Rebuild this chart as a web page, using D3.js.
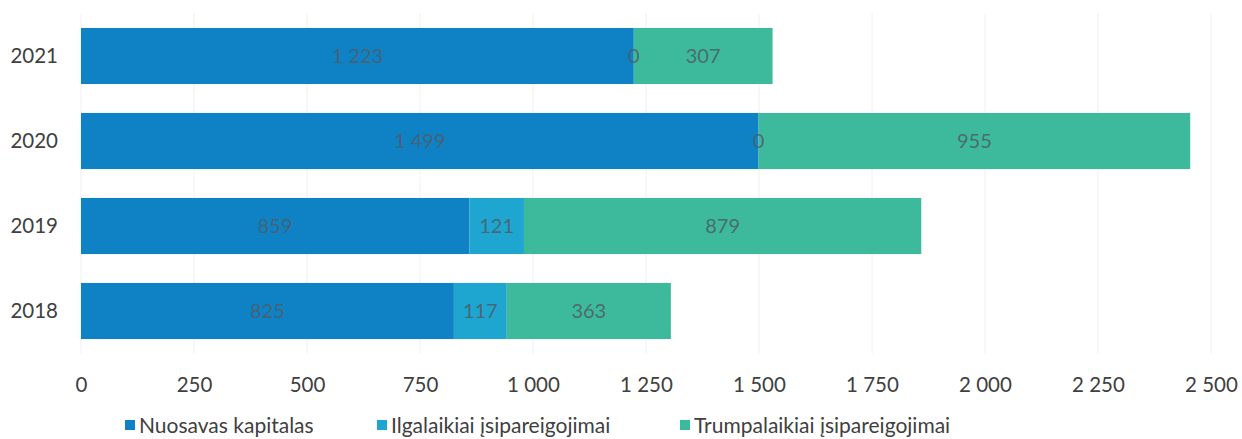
<!DOCTYPE html>
<html>
<head>
<meta charset="utf-8">
<script src="https://cdn.jsdelivr.net/npm/d3@7"></script>
<style>
  body { margin: 0; background: #fff; }
  svg { font-family: Lato, "Open Sans", sans-serif; }
</style>
</head>
<body>
<div id="chart"></div>
<script>
// data
var years = ["2021", "2020", "2019", "2018"];
var series = ["Nuosavas kapitalas", "Ilgalaikiai įsipareigojimai", "Trumpalaikiai įsipareigojimai"];
var nuosavas = [1223, 1499, 859, 825];
var ilgalaikiai = [0, 0, 121, 117];
var trumpalaikiai = [307, 955, 879, 363];
var ticks = [0, 250, 500, 750, 1000, 1250, 1500, 1750, 2000, 2250, 2500];
var colors = ["#0f82c6", "#1ea6d1", "#3db99b"];

var width = 1242, height = 439;
var margin = {left: 81, right: 31, top: 13.5, bottom: 85.5};

var rows = years.map(function (y, i) {
  return {year: y, a: nuosavas[i], b: ilgalaikiai[i], c: trumpalaikiai[i]};
});
var stack = d3.stack().keys(["a", "b", "c"])(rows);

var svg = d3.select('#chart').append('svg')
  .attr('width', width)
  .attr('height', height);

var x = d3.scaleLinear().domain([0, 2500]).range([margin.left, width - margin.right]);
var y = d3.scaleBand().domain(years).range([margin.top, height - margin.bottom])
  .paddingInner(0.34).paddingOuter(0.17);

var fmt = d3.formatLocale({decimal: ",", thousands: "\u00a0", grouping: [3], currency: ["", ""]}).format(",d");

// grid
svg.append('g').selectAll('line')
  .data(ticks)
  .join('line')
  .attr('x1', d => x(d)).attr('x2', d => x(d))
  .attr('y1', margin.top).attr('y2', height - margin.bottom)
  .attr('stroke', '#f0f0f0')
  .attr('stroke-width', 1);

// bars
var layers = svg.append('g').selectAll('g')
  .data(stack)
  .join('g')
  .attr('fill', (d, i) => colors[i]);

layers.selectAll('rect')
  .data(d => d)
  .join('rect')
  .attr('x', d => x(d[0]))
  .attr('width', d => x(d[1]) - x(d[0]))
  .attr('y', d => y(d.data.year))
  .attr('height', y.bandwidth());

// data labels (own group so the zero labels sit on top of the next segment)
var labelData = [];
stack.forEach(function (layer) {
  layer.forEach(function (v) { labelData.push({v: v, val: v.data[layer.key]}); });
});
svg.append('g').selectAll('text')
  .data(labelData)
  .join('text')
  .attr('x', d => (x(d.v[0]) + x(d.v[1])) / 2)
  .attr('y', d => y(d.v.data.year) + y.bandwidth() / 2)
  .attr('dy', '0.36em')
  .attr('text-anchor', 'middle')
  .attr('fill', '#4d5d66')
  .attr('fill-opacity', 0.85)
  .style('font-size', '20px')
  .text(d => fmt(d.val));

// y labels
svg.append('g').selectAll('text')
  .data(years)
  .join('text')
  .attr('x', 58)
  .attr('y', d => y(d) + y.bandwidth() / 2)
  .attr('dy', '0.36em')
  .attr('text-anchor', 'end')
  .attr('fill', '#404040')
  .style('font-size', '20.5px')
  .text(d => d);

// x axis labels
var xAxis = d3.axisBottom(x).tickValues(ticks).tickSize(0).tickPadding(0).tickFormat(fmt);
var gx = svg.append('g')
  .attr('transform', 'translate(0,' + 377 + ')')
  .call(xAxis);
gx.select('.domain').remove();
gx.selectAll('text')
  .attr('fill', '#404040')
  .style('font-size', '20.5px')
  .style('font-family', 'Lato, "Open Sans", sans-serif');

// legend
var legendX = [125, 377, 680];
var lg = svg.append('g').selectAll('g')
  .data(series)
  .join('g')
  .attr('transform', (d, i) => 'translate(' + legendX[i] + ',' + 425 + ')');
lg.append('rect')
  .attr('x', 0).attr('y', -5)
  .attr('width', 10).attr('height', 10)
  .attr('fill', (d, i) => colors[i]);
lg.append('text')
  .attr('x', 14)
  .attr('y', 0)
  .attr('dy', '0.36em')
  .attr('fill', '#404040')
  .style('font-size', '21px')
  .text(d => d);
</script>
</body>
</html>
